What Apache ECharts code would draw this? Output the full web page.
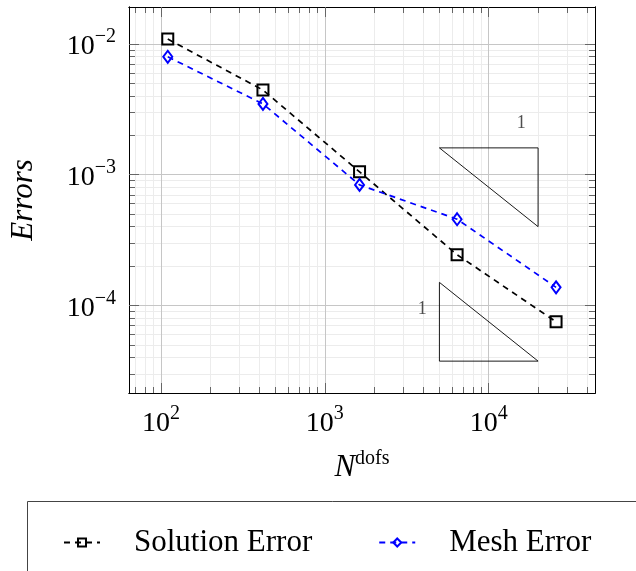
<!DOCTYPE html>
<html>
<head>
<meta charset="utf-8">
<script src="https://cdn.jsdelivr.net/npm/echarts@6/dist/echarts.min.js"></script>
<style>
html,body{margin:0;padding:0;background:#fff;}
#chart{width:636px;height:571px;}
</style>
</head>
<body>
<div id="chart"></div>
<script>
// ---- data ----
const ndofs = [110, 419, 1628, 6410, 25750];
const solutionError = [1.086e-2, 4.43e-3, 1.05e-3, 2.44e-4, 7.49e-5];
const meshError = [7.95e-3, 3.47e-3, 8.34e-4, 4.56e-4, 1.374e-4];
const xMajorTicks = [100, 1000, 10000];
const yMajorTicks = [1e-2, 1e-3, 1e-4];
const xRange = [63.8, 44500];
const yRange = [2.14e-5, 1.91e-2];
const slopeTriUpper = [[5000, 1.6e-3], [20000, 1.6e-3], [20000, 4.0e-4], [5000, 1.6e-3]];
const slopeTriLower = [[5000, 1.5e-4], [5000, 3.75e-5], [20000, 3.75e-5], [5000, 1.5e-4]];
const slopeLabels = [[15800, 2.47e-3, '1'], [3930, 9.3e-5, '1']];

// minor (2..9 x 10^k) tick values inside the ranges
function minorTicks(range) {
  const out = [];
  for (let e = -6; e <= 6; e++) {
    for (let m = 2; m <= 9; m++) {
      const v = m * Math.pow(10, e);
      if (v > range[0] && v < range[1]) out.push(v);
    }
  }
  return out;
}
const xMinor = minorTicks(xRange);
const yMinor = minorTicks(yRange);

const FONT = 'Liberation Serif';
const tickColor = '#666';
const majorGrid = '#c6c6c6';
const minorGrid = '#ececec';

function powLabel(v) {
  const e = Math.round(Math.log10(v));
  const s = e < 0 ? '\u2212' + (-e) : String(e);
  return '{b|10}{s|' + s + '}';
}
const labelRich = {
  b: {fontFamily: FONT, fontSize: 28, lineHeight: 34, verticalAlign: 'bottom', color: '#000'},
  s: {fontFamily: FONT, fontSize: 20, lineHeight: 20, verticalAlign: 'top', color: '#000'}
};

function xAxisDef(position, values, isMajor, withLabels, z) {
  const a = {
    type: 'log', logBase: 10, min: xRange[0], max: xRange[1], position: position, z: z,
    axisLine: {show: true, onZero: false, lineStyle: {color: '#000', width: 1}},
    axisTick: {show: true, inside: true, length: isMajor ? 10 : 6, customValues: values,
               lineStyle: {color: tickColor, width: 1}},
    axisLabel: {show: false},
    splitLine: {show: position === 'bottom', lineStyle: {color: isMajor ? majorGrid : minorGrid, width: 1}},
    minorTick: {show: false}, minorSplitLine: {show: false}
  };
  if (withLabels) {
    a.axisLabel = {show: true, customValues: values, margin: 11, formatter: powLabel, rich: labelRich};
    a.name = '{n|N}{s|dofs}';
    a.nameLocation = 'middle';
    a.nameGap = 56;
    a.nameTextStyle = {rich: {
      n: {fontFamily: FONT, fontStyle: 'italic', fontSize: 31, lineHeight: 34, verticalAlign: 'bottom', color: '#000'},
      s: {fontFamily: FONT, fontSize: 20, lineHeight: 20, verticalAlign: 'top', color: '#000'}
    }};
  }
  return a;
}
function yAxisDef(position, values, isMajor, withLabels, z) {
  const a = {
    type: 'log', logBase: 10, min: yRange[0], max: yRange[1], position: position, z: z,
    axisLine: {show: true, onZero: false, lineStyle: {color: '#000', width: 1}},
    axisTick: {show: true, inside: true, length: isMajor ? 10 : 6, customValues: values,
               lineStyle: {color: tickColor, width: 1}},
    axisLabel: {show: false},
    splitLine: {show: position === 'left', lineStyle: {color: isMajor ? majorGrid : minorGrid, width: 1}},
    minorTick: {show: false}, minorSplitLine: {show: false}
  };
  if (withLabels) {
    a.axisLabel = {show: true, customValues: values, margin: 13, formatter: powLabel, rich: labelRich};
    a.name = 'Errors';
    a.nameLocation = 'middle';
    a.nameGap = 90;
    a.nameTextStyle = {fontFamily: FONT, fontStyle: 'italic', fontSize: 31, color: '#000'};
  }
  return a;
}

const chart = echarts.init(document.getElementById('chart'), null, {renderer: 'canvas'});
const option = {
  backgroundColor: '#fff',
  animation: false,
  grid: {left: 129, right: 41, top: 7, bottom: 178, containLabel: false, outerBoundsMode: 'none'},
  xAxis: [
    xAxisDef('bottom', xMajorTicks, true, true, 1),
    xAxisDef('bottom', xMinor, false, false, 0),
    xAxisDef('top', xMajorTicks, true, false, 1),
    xAxisDef('top', xMinor, false, false, 0)
  ],
  yAxis: [
    yAxisDef('left', yMajorTicks, true, true, 1),
    yAxisDef('left', yMinor, false, false, 0),
    yAxisDef('right', yMajorTicks, true, false, 1),
    yAxisDef('right', yMinor, false, false, 0)
  ],
  legend: {
    show: true,
    data: ['Solution Error', 'Mesh Error'],
    left: 58, top: 522,
    orient: 'horizontal',
    itemWidth: 36, itemHeight: 10, itemGap: 66,
    textStyle: {fontFamily: FONT, fontSize: 31, color: '#000', padding: [0, 0, 0, 29]},
    selectedMode: false
  },
  graphic: [{
    type: 'rect', shape: {x: 27.5, y: 501.5, width: 700, height: 200},
    style: {fill: 'none', stroke: '#444', lineWidth: 1}, silent: true
  }],
  series: [
    {
      name: 'Solution Error', type: 'line', xAxisIndex: 0, yAxisIndex: 0, z: 4,
      data: ndofs.map((x, i) => [x, solutionError[i]]),
      color: '#000',
      symbol: 'rect', symbolSize: 11,
      lineStyle: {color: '#000', width: 1.7, type: [6, 5]},
      itemStyle: {color: 'rgba(255,255,255,0)', borderColor: '#000', borderWidth: 2}
    },
    {
      name: 'Mesh Error', type: 'line', xAxisIndex: 0, yAxisIndex: 0, z: 4,
      data: ndofs.map((x, i) => [x, meshError[i]]),
      color: '#0000ff',
      symbol: 'diamond', symbolSize: [9, 12],
      lineStyle: {color: '#0000ff', width: 1.7, type: [6, 5]},
      itemStyle: {color: 'rgba(255,255,255,0)', borderColor: '#0000ff', borderWidth: 2}
    },
    {
      name: 'triUpper', type: 'line', xAxisIndex: 0, yAxisIndex: 0, z: 3, silent: true,
      data: slopeTriUpper, symbol: 'none',
      lineStyle: {color: '#000', width: 0.9}
    },
    {
      name: 'triLower', type: 'line', xAxisIndex: 0, yAxisIndex: 0, z: 3, silent: true,
      data: slopeTriLower, symbol: 'none',
      lineStyle: {color: '#000', width: 0.9}
    },
    {
      name: 'slopeLabels', type: 'scatter', xAxisIndex: 0, yAxisIndex: 0, z: 3, silent: true,
      data: slopeLabels.map(d => ({value: [d[0], d[1]], label: {formatter: d[2]}})),
      symbolSize: 0,
      label: {show: true, position: 'inside', fontFamily: FONT, fontSize: 18, color: '#222'}
    }
  ]
};
chart.setOption(option);
</script>
</body>
</html>
